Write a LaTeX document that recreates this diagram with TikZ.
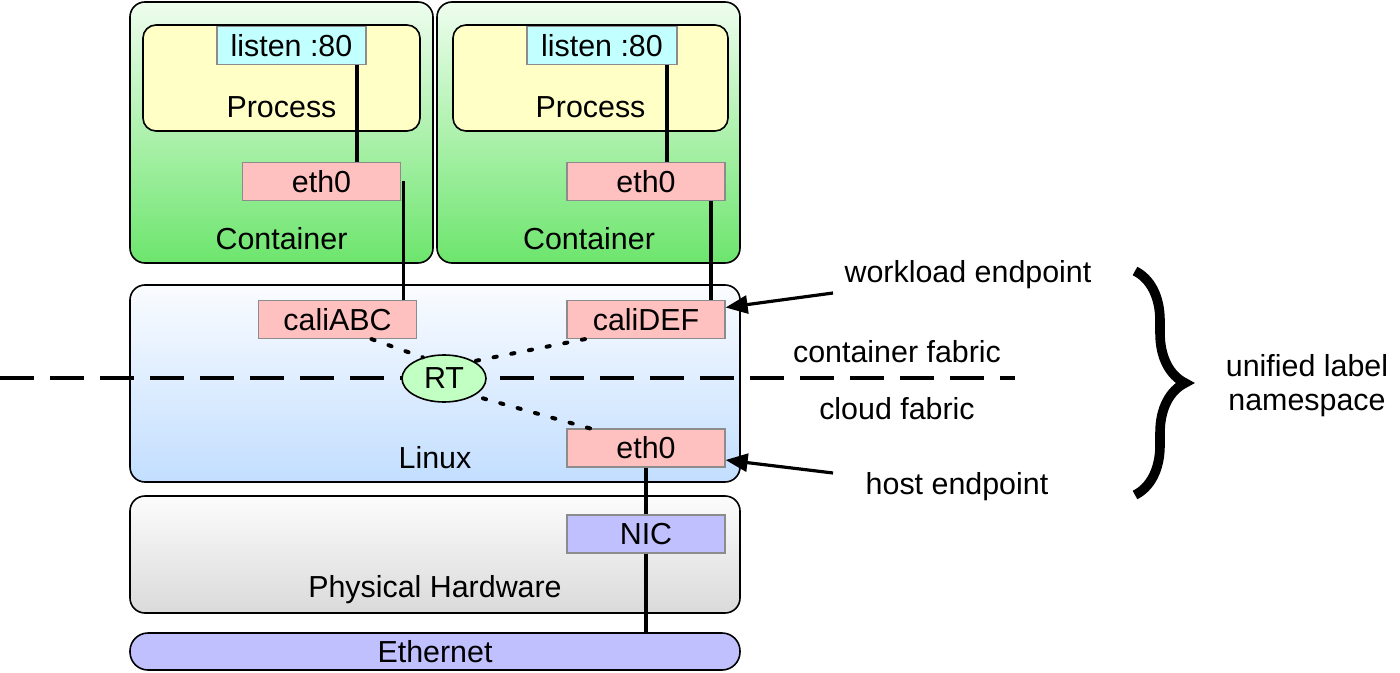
\documentclass[tikz,border=0pt]{standalone}
\usepackage{fontspec}
\setmainfont{Liberation Sans}
\usetikzlibrary{arrows.meta,positioning,decorations.pathreplacing,shapes.geometric}

\definecolor{contTop}{HTML}{EEFDEE}
\definecolor{contBot}{HTML}{6DE56D}
\definecolor{procYellow}{HTML}{FFFFC6}
\definecolor{listenCyan}{HTML}{C2FFFF}
\definecolor{ethPink}{HTML}{FFC0C0}
\definecolor{rtGreen}{HTML}{C2FFC2}
\definecolor{nicBlue}{HTML}{C0C0FF}
\definecolor{linuxTop}{HTML}{FAFCFF}
\definecolor{linuxBot}{HTML}{C2DEFF}
\definecolor{hwTop}{HTML}{FCFCFC}
\definecolor{hwBot}{HTML}{DADADA}

\begin{document}
\begin{tikzpicture}[
            x=0.5pt, y=-0.5pt,
            font=\fontsize{15.2}{17}\selectfont,
            box/.style={rectangle, rounded corners=7.5pt, draw=black, line width=0.8pt,
                                        inner sep=0pt},
            tag/.style={rectangle, draw=black!45, line width=0.6pt,
                                        minimum width=79pt, minimum height=19pt, inner sep=0pt},
            wire/.style={line width=1.6pt},
            dots/.style={line width=2pt, line cap=round, dash pattern=on 1.6pt off 7.4pt},
            fabric/.style={line width=1.8pt, dash pattern=on 17pt off 8pt},
            pointer/.style={-{Triangle[length=11pt,width=9pt]}, line width=1.6pt},
            every node/.style={align=center}
        ]
        \useasboundingbox (0,0) rectangle (1400,673);

        % Left container
        \node[box, top color=contTop, bottom color=contBot,
                    minimum width=151.5pt, minimum height=130.5pt] (cont1) at (281.5,132.5) {};
        \node[box, fill=procYellow, rounded corners=6.5pt,
                    minimum width=138.5pt, minimum height=53pt] (proc1) at (281.5,78) {};
        \node[tag, fill=listenCyan, minimum width=74.5pt] (listen1) at (291.5,45.5) {listen :80};
        \node (proc1lbl) at (281.5,107) {Process};
        \node[tag, fill=ethPink] (eth1) at (321.5,181.5) {eth0};
        \node (cont1lbl) at (281.5,239) {Container};

        % Right container
        \node[box, top color=contTop, bottom color=contBot,
                    minimum width=151.5pt, minimum height=130.5pt] (cont2) at (588.5,132.5) {};
        \node[box, fill=procYellow, rounded corners=6.5pt,
                    minimum width=137.5pt, minimum height=53pt] (proc2) at (590.5,78) {};
        \node[tag, fill=listenCyan, minimum width=75pt] (listen2) at (602,45.5) {listen :80};
        \node (proc2lbl) at (590.5,107) {Process};
        \node[tag, fill=ethPink] (eth2) at (646,181.5) {eth0};
        \node (cont2lbl) at (589,239) {Container};

        % Linux host
        \node[box, top color=linuxTop, bottom color=linuxBot,
                    minimum width=305pt, minimum height=98.5pt] (linux) at (435,383.5) {};
        \node[tag, fill=ethPink] (caliABC) at (337.5,319.5) {caliABC};
        \node[tag, fill=ethPink] (caliDEF) at (646,319.5) {caliDEF};
        \node[tag, fill=ethPink] (hosteth) at (646,448) {eth0};
        \node (linuxlbl) at (435,458) {Linux};

        % Fabric boundary
        \coordinate (fabL) at (0,378);
        \coordinate (fabR) at (1015,378);
        \draw[fabric] (fabL) -- (fabR);
        \node[ellipse, draw=black, line width=0.8pt, fill=rtGreen, inner sep=0pt,
                    minimum width=42pt, minimum height=23.5pt] (rt) at (444,378.5) {RT};

        % Hardware and wire
        \node[box, top color=hwTop, bottom color=hwBot,
                    minimum width=305pt, minimum height=58.5pt] (hw) at (435,554.5) {};
        \node[tag, fill=nicBlue] (nic) at (646,534) {NIC};
        \node (hwlbl) at (435,590) {Physical Hardware};
        \node[box, fill=nicBlue, rounded corners=9pt,
                    minimum width=305pt, minimum height=18.5pt] (ethernet) at (435,651.5) {Ethernet};

        % Links
        \draw[wire] ([xshift=32.75pt]listen1.south) -- ([xshift=32.75pt]listen1.south |- eth1.north);
        \draw[wire] ([xshift=32.5pt]listen2.south) -- ([xshift=32.5pt]listen2.south |- eth2.north);
        \draw[wire] ([xshift=1pt]eth1.east) -- ([xshift=1pt]eth1.east |- caliABC.north);
        \draw[wire] ([xshift=32.5pt]eth2.south) -- ([xshift=32.5pt]eth2.south |- caliDEF.north);
        \draw[wire] (hosteth.south) -- (nic.north);
        \draw[wire] (nic.south) -- (nic.south |- ethernet.north);

        % Routes
        \draw[dots] ([xshift=17pt]caliABC.south) -- (rt.135);
        \draw[dots] ([xshift=-30.5pt]caliDEF.south) -- (rt.30);
        \draw[dots] ([xshift=-28pt]hosteth.north) -- (rt.-30);

        % Annotations
        \node (workload) at (968,275) {workload endpoint};
        \node (contfab) at (897,352) {container fabric};
        \node (cloudfab) at (897,409) {cloud fabric};
        \node (hostep) at (957,487) {host endpoint};
        \node (unified) at (1307,386) {unified label\\namespace};
        \coordinate (wtail) at (833,293);
        \coordinate (htail) at (833,473);
        \draw[pointer] (wtail) -- ([yshift=6pt]caliDEF.east);
        \draw[pointer] (htail) -- ([yshift=-6pt]hosteth.east);

        \coordinate (brtop) at (1135,271);
        \coordinate (brbot) at (1135,495);
        \draw[line width=4.8pt, decorate, decoration={brace, amplitude=25pt}] (brtop) -- (brbot);

        \end{tikzpicture}
\end{document}
